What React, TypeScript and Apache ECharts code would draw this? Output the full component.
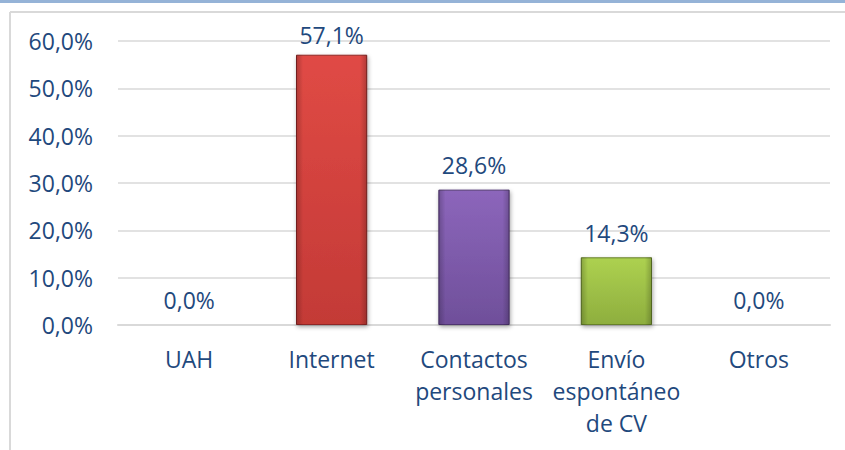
import React, { useEffect, useRef } from "react";
import * as echarts from "echarts";

const categories = ["UAH", "Internet", "Contactos\npersonales", "Envío\nespontáneo\nde CV", "Otros"];
const values = [0.0, 57.1, 28.6, 14.3, 0.0];
const yTicks = [0, 10, 20, 30, 40, 50, 60];

const barColors: [string, string, string][] = [
  ["#e04a45", "#c33a36", "#8f2825"],
  ["#e04a45", "#c33a36", "#8f2825"],
  ["#8c66bb", "#6f4f9a", "#4f3670"],
  ["#add150", "#8eae3e", "#66802a"],
  ["#e04a45", "#c33a36", "#8f2825"],
];

const TEXT = "#1F497D";
const FONT = "'Open Sans', sans-serif";

function fmt(v: number) {
  return v.toFixed(1).replace(".", ",") + "%";
}

export default function App() {
  const ref = useRef<HTMLDivElement>(null);
  useEffect(() => {
    if (!ref.current) return;
    const chart = echarts.init(ref.current, undefined, { renderer: "svg" });
    chart.setOption({
      animation: false,
      backgroundColor: "#ffffff",
      textStyle: { fontFamily: FONT },
      grid: { left: 118, right: 15, top: 41, bottom: 125, containLabel: false },
      graphic: [
        { type: "rect", shape: { x: 0, y: 0, width: 845, height: 3 }, style: { fill: "#95b3d7" }, silent: true },
        { type: "line", shape: { x1: 10, y1: 12, x2: 845, y2: 12 }, style: { stroke: "#d9d9d9", lineWidth: 2 }, silent: true },
        { type: "line", shape: { x1: 10, y1: 12, x2: 10, y2: 450 }, style: { stroke: "#d9d9d9", lineWidth: 2 }, silent: true },
      ],
      xAxis: {
        type: "category",
        data: categories,
        axisLine: { show: true, lineStyle: { color: "#d9d9d9", width: 2 } },
        axisTick: { show: false },
        axisLabel: {
          color: TEXT,
          fontSize: 23,
          fontFamily: FONT,
          lineHeight: 32,
          margin: 18,
          interval: 0,
        },
      },
      yAxis: {
        type: "value",
        min: yTicks[0],
        max: yTicks[yTicks.length - 1],
        interval: 10,
        axisLine: { show: false },
        axisTick: { show: false },
        splitLine: { lineStyle: { color: "#d9d9d9", width: 1.5 } },
        axisLabel: {
          color: TEXT,
          fontSize: 23,
          fontFamily: FONT,
          margin: 25,
          formatter: (v: number) => fmt(v),
        },
      },
      series: [
        {
          type: "bar",
          barWidth: "50%",
          z: 2,
          data: values.map((v, i) => ({
            value: v,
            itemStyle: {
              color: new echarts.graphic.LinearGradient(0, 0, 0, 1, [
                { offset: 0, color: barColors[i][0] },
                { offset: 1, color: barColors[i][1] },
              ]),
              borderColor: barColors[i][2],
              borderWidth: 1,
              shadowColor: "rgba(0,0,0,0.35)",
              shadowBlur: 4,
              shadowOffsetX: 1,
              shadowOffsetY: 2,
            },
            label: { distance: v > 50 ? 8 : 13 },
          })),
          label: {
            show: true,
            position: "top",
            color: TEXT,
            fontSize: 23,
            fontFamily: FONT,
            formatter: (p: any) => fmt(p.value),
          },
        },
        {
          type: "bar",
          barWidth: "50%",
          barGap: "-100%",
          z: 3,
          silent: true,
          data: values,
          itemStyle: {
            color: new echarts.graphic.LinearGradient(0, 0, 1, 0, [
              { offset: 0, color: "rgba(0,0,0,0.22)" },
              { offset: 0.1, color: "rgba(0,0,0,0)" },
              { offset: 0.9, color: "rgba(0,0,0,0)" },
              { offset: 1, color: "rgba(0,0,0,0.22)" },
            ]),
          },
          label: { show: false },
        },
      ],
    });
    return () => chart.dispose();
  }, []);
  return (
    <div
      ref={ref}
      style={{ position: "absolute", left: 0, top: 0, width: 845, height: 450 }}
    />
  );
}
